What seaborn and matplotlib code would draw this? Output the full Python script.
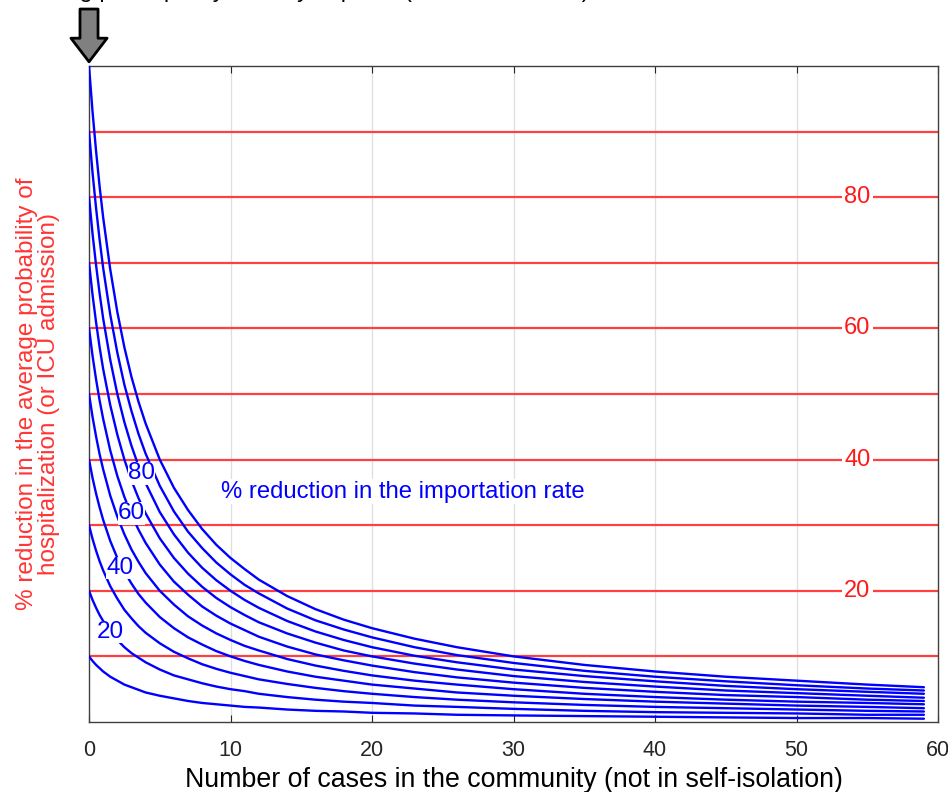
#!/usr/bin/env python3
"""Contours of % reduction in importation rate vs cases in the community
"""

import pandas as pd
import matplotlib
matplotlib.use('Agg')
import matplotlib.pyplot as plt
import seaborn as sns

cases = [0, 0.25, 0.5, 0.75, 1, 1.5, 2, 2.5, 3, 3.5, 4, 5, 6, 7, 8, 9, 10, 11, 12,
         14, 16, 18, 20, 23, 26, 30, 35, 40, 45, 50, 55, 59]

# % reduction in the average probability of hospitalization along each
# contour of % reduction in the importation rate
import_levels = [100, 90, 80, 70, 60, 50, 40, 30, 20, 10]
curve_100 = [100, 93.0, 87.0, 81.6, 76.9, 69.0, 62.5, 57.1, 52.6, 48.8, 45.5, 40.0, 35.7, 32.3, 29.4, 27.0,
             25.0, 23.3, 21.7, 19.2, 17.2, 15.6, 14.3, 12.7, 11.4, 10.0, 8.7, 7.7, 6.9, 6.3, 5.7, 5.3]
curve_90 = [90, 83.7, 78.3, 73.5, 69.2, 62.1, 56.3, 51.4, 47.4, 43.9, 40.9, 36.0, 32.1, 29.0, 26.5, 24.3,
            22.5, 20.9, 19.6, 17.3, 15.5, 14.1, 12.9, 11.4, 10.2, 9.0, 7.8, 6.9, 6.2, 5.6, 5.1, 4.8]
curve_80 = [80, 74.4, 69.6, 65.3, 61.5, 55.2, 50.0, 45.7, 42.1, 39.0, 36.4, 32.0, 28.6, 25.8, 23.5, 21.6,
            20.0, 18.6, 17.4, 15.4, 13.8, 12.5, 11.4, 10.1, 9.1, 8.0, 7.0, 6.2, 5.5, 5.0, 4.6, 4.3]
curve_70 = [70, 65.1, 60.9, 57.1, 53.8, 48.3, 43.8, 40.0, 36.8, 34.1, 31.8, 28.0, 25.0, 22.6, 20.6, 18.9,
            17.5, 16.3, 15.2, 13.5, 12.1, 10.9, 10.0, 8.9, 8.0, 7.0, 6.1, 5.4, 4.8, 4.4, 4.0, 3.7]
curve_60 = [60, 55.8, 52.2, 49.0, 46.2, 41.4, 37.5, 34.3, 31.6, 29.3, 27.3, 24.0, 21.4, 19.4, 17.6, 16.2,
            15.0, 14.0, 13.0, 11.5, 10.3, 9.4, 8.6, 7.6, 6.8, 6.0, 5.2, 4.6, 4.1, 3.8, 3.4, 3.2]
curve_50 = [50, 46.5, 43.5, 40.8, 38.5, 34.5, 31.3, 28.6, 26.3, 24.4, 22.7, 20.0, 17.9, 16.1, 14.7, 13.5,
            12.5, 11.6, 10.9, 9.6, 8.6, 7.8, 7.1, 6.3, 5.7, 5.0, 4.3, 3.8, 3.4, 3.1, 2.9, 2.7]
curve_40 = [40, 37.2, 34.8, 32.7, 30.8, 27.6, 25.0, 22.9, 21.1, 19.5, 18.2, 16.0, 14.3, 12.9, 11.8, 10.8,
            10.0, 9.3, 8.7, 7.7, 6.9, 6.3, 5.7, 5.1, 4.5, 4.0, 3.5, 3.1, 2.8, 2.5, 2.3, 2.1]
curve_30 = [30, 27.9, 26.1, 24.5, 23.1, 20.7, 18.8, 17.1, 15.8, 14.6, 13.6, 12.0, 10.7, 9.7, 8.8, 8.1,
            7.5, 7.0, 6.5, 5.8, 5.2, 4.7, 4.3, 3.8, 3.4, 3.0, 2.6, 2.3, 2.1, 1.9, 1.7, 1.6]
curve_20 = [20, 18.6, 17.4, 16.3, 15.4, 13.8, 12.5, 11.4, 10.5, 9.8, 9.1, 8.0, 7.1, 6.5, 5.9, 5.4,
            5.0, 4.7, 4.3, 3.8, 3.4, 3.1, 2.9, 2.5, 2.3, 2.0, 1.7, 1.5, 1.4, 1.3, 1.1, 1.1]
curve_10 = [10, 9.3, 8.7, 8.2, 7.7, 6.9, 6.3, 5.7, 5.3, 4.9, 4.5, 4.0, 3.6, 3.2, 2.9, 2.7,
            2.5, 2.3, 2.2, 1.9, 1.7, 1.6, 1.4, 1.3, 1.1, 1.0, 0.9, 0.8, 0.7, 0.6, 0.6, 0.5]

# labelled contours: level and where its label sits (x, y)
import_labels = [20, 40, 60, 80]
import_label_x = [1.5, 2.2, 3.0, 3.7]
import_label_y = [13.7, 23.5, 31.8, 37.9]

# red horizontal lines: % reduction in hospitalization probability
hosp_levels = [10, 20, 30, 40, 50, 60, 70, 80, 90]
hosp_labels = [20, 40, 60, 80]

x_ticks = [0, 10, 20, 30, 40, 50, 60]


def main():
    sns.set_style('white')
    plt.rcParams['font.family'] = ['Liberation Sans', 'DejaVu Sans']

    curves = [curve_100, curve_90, curve_80, curve_70, curve_60,
              curve_50, curve_40, curve_30, curve_20, curve_10]
    rows = []
    for level, ys in zip(import_levels, curves):
        for x, y in zip(cases, ys):
            rows.append({'cases': x, 'hosp': y, 'level': level})
    df = pd.DataFrame(rows)

    fig = plt.figure(figsize=(9.48, 7.92), dpi=100)
    ax = fig.add_axes([0.0939, 0.0884, 0.8956, 0.8283])

    for v in x_ticks[1:-1]:
        ax.axvline(v, color='#dedede', lw=0.9, zorder=0)

    for h in hosp_levels:
        ax.axhline(h, color='#ff4040', lw=1.6, zorder=1)
    for h in hosp_labels:
        ax.text(54.3, h, str(h), color='#ff1a1a', fontsize=17, ha='center', va='center',
                zorder=2, bbox=dict(facecolor='white', edgecolor='none', pad=1.5))

    sns.lineplot(data=df, x='cases', y='hosp', hue='level', units='level',
                 estimator=None, sort=False, palette=['#0000ff'] * len(import_levels),
                 lw=1.7, legend=False, ax=ax, zorder=3)

    for lab, lx, ly in zip(import_labels, import_label_x, import_label_y):
        ax.text(lx, ly, str(lab), color='#0000ff', fontsize=17.5, ha='center', va='center',
                zorder=4, bbox=dict(facecolor='white', edgecolor='none', pad=0.2))

    ax.text(9.3, 35.1, '% reduction in the importation rate', color='#0000ff', fontsize=17.2,
            ha='left', va='center', zorder=4,
            bbox=dict(facecolor='white', edgecolor='none', pad=1))

    ax.set_xlim(0, 60)
    ax.set_ylim(0, 100)
    ax.set_xticks(x_ticks)
    ax.set_yticks([])
    ax.tick_params(axis='x', direction='in', length=5, top=True, bottom=True,
                   labelsize=15.5, labelcolor='#262626', color='#262626', pad=13)
    for s in ax.spines.values():
        s.set_color('#404040')
        s.set_linewidth(1.0)

    ax.set_xlabel('Number of cases in the community (not in self-isolation)',
                  fontsize=19.3, color='black', labelpad=4)
    ax.set_ylabel('% reduction in the average probability of\nhospitalization (or ICU admission)',
                  fontsize=17.5, color='#ff3535', linespacing=1.0, labelpad=21)

    # arrow marking the starting point
    ax.annotate('', xy=(0, 1.0), xycoords=('data', 'axes fraction'),
                xytext=(0, 41), textcoords='offset points',
                arrowprops=dict(arrowstyle='simple,head_length=0.85,head_width=1.3,tail_width=0.65',
                                mutation_scale=20, facecolor='#808080', edgecolor='black',
                                lw=2, shrinkA=0, shrinkB=3),
                annotation_clip=False)

    # title line cut off by the top edge of the picture
    fig.text(0.012, 1.0 + 3.0 / 792, 'Starting point: policy already in place (current scenario)',
             fontsize=17, color='black', ha='left', va='baseline')

    fig.savefig('out.png', dpi=100)


if __name__ == '__main__':
    main()
